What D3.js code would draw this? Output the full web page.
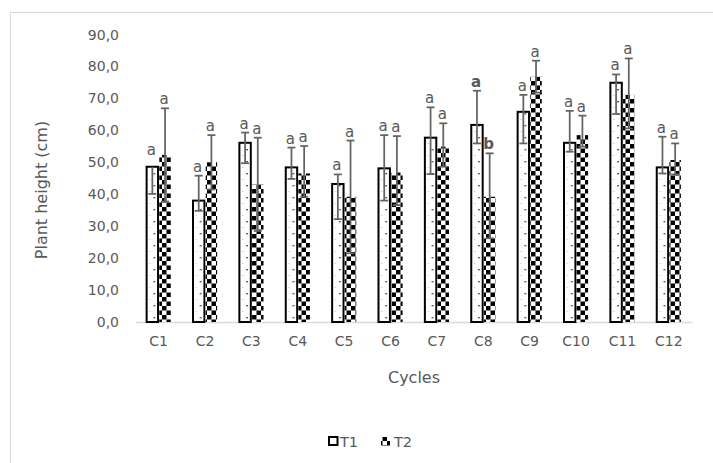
<!DOCTYPE html>
<html>
<head>
<meta charset="utf-8">
<script src="https://cdn.jsdelivr.net/npm/d3@7/dist/d3.min.js"></script>
<style>
  html, body { margin: 0; padding: 0; background: #fff; }
  svg { display: block; }
  text { font-family: "DejaVu Sans", sans-serif; fill: #595959; }
</style>
</head>
<body>
<svg id="chart" width="713" height="463"></svg>
<script>
const categories = ["C1","C2","C3","C4","C5","C6","C7","C8","C9","C10","C11","C12"];
const seriesNames = ["T1","T2"];
const t1Values = [48.6, 38.0, 56.1, 48.4, 43.2, 48.1, 57.7, 61.7, 65.8, 56.1, 74.9, 48.4];
const t1ErrUp   = [0.0, 7.8, 3.2, 6.2, 3.0, 10.4, 9.5, 10.7, 5.3, 10.0, 2.6, 9.6];
const t1ErrDown = [8.5, 3.2, 6.4, 3.6, 11.0, 10.1, 11.4, 5.8, 9.9, 2.8, 9.8, 1.9];
const t2Values = [52.3, 50.0, 43.1, 46.5, 39.2, 46.8, 54.9, 39.2, 76.8, 58.5, 71.1, 50.7];
const t2ErrUp   = [14.6, 8.5, 14.6, 8.6, 17.6, 11.4, 7.3, 13.6, 5.0, 6.1, 11.4, 5.2];
const t2ErrDown = [14.6, 8.5, 14.6, 7.3, 17.7, 10.2, 6.3, 13.0, 5.0, 3.6, 10.5, 4.5];
const t1Letters = ["a","a","a","a","a","a","a","a","a","a","a","a"];
const t2Letters = ["a","a","a","a","a","a","a","b","a","a","a","a"];
const boldCategories = ["C8"];
const yTicks = [0,10,20,30,40,50,60,70,80,90];

(function () {
const svg = d3.select("#chart");

// frame
svg.append("rect").attr("x", 10.5).attr("y", 12.5).attr("width", 740).attr("height", 480)
  .attr("fill", "none").attr("stroke", "#d9d9d9").attr("stroke-width", 1);

const plotLeft = 135.5, plotRight = 692, plotTop = 34.5, plotBottom = 322;
const x0 = d3.scaleBand().domain(categories).range([plotLeft, plotRight]).padding(0);
const bw = x0.bandwidth();
const x1 = d3.scaleBand().domain(seriesNames).range([bw * 0.24, bw * 0.76]).paddingInner(0.1);
const y = d3.scaleLinear().domain([0, 90]).range([plotBottom, plotTop]);

// patterns
const defs = svg.append("defs");
const p1 = defs.append("pattern").attr("id", "pT1").attr("patternUnits", "userSpaceOnUse")
  .attr("width", bw).attr("height", 12).attr("x", plotLeft);
p1.append("rect").attr("width", bw).attr("height", 12).attr("fill", "#fff");
p1.append("rect").attr("x", bw * 0.24 + 7).attr("y", 5).attr("width", 1.4).attr("height", 1.4).attr("fill", "#222");
p1.append("rect").attr("x", bw * 0.24 + 3).attr("y", 11).attr("width", 0.9).attr("height", 0.9).attr("fill", "#aaa");

const p2 = defs.append("pattern").attr("id", "pT2").attr("patternUnits", "userSpaceOnUse")
  .attr("width", 9).attr("height", 9);
p2.append("rect").attr("width", 9).attr("height", 9).attr("fill", "#fff");
p2.append("rect").attr("x", 0).attr("y", 0).attr("width", 4.5).attr("height", 4.5).attr("fill", "#000");
p2.append("rect").attr("x", 4.5).attr("y", 4.5).attr("width", 4.5).attr("height", 4.5).attr("fill", "#000");

// y tick labels
const fmt = v => d3.format(".1f")(v).replace(".", ",");
svg.append("g").selectAll("text").data(yTicks).join("text")
  .attr("x", 119).attr("y", d => y(d)).attr("dy", "0.36em")
  .attr("text-anchor", "end").attr("font-size", 14).text(fmt);

// axis line
const xAxisG = svg.append("g").attr("transform", `translate(0,${plotBottom})`)
  .call(d3.axisBottom(x0).tickSize(0).tickPadding(14));
xAxisG.select(".domain").attr("stroke", "#d9d9d9").attr("stroke-width", 1.5);
xAxisG.selectAll("text").attr("font-size", 14).attr("fill", "#595959")
  .style("font-family", "DejaVu Sans, sans-serif");

const rows = categories.map((c, i) => ({
  cat: c,
  items: [
    {s: "T1", v: t1Values[i], up: t1ErrUp[i], down: t1ErrDown[i], letter: t1Letters[i]},
    {s: "T2", v: t2Values[i], up: t2ErrUp[i], down: t2ErrDown[i], letter: t2Letters[i]}
  ]
}));

const bars = svg.append("g");
rows.forEach(r => {
  r.items.forEach(d => {
    bars.append("rect")
      .attr("x", x0(r.cat) + x1(d.s))
      .attr("y", y(d.v))
      .attr("width", x1.bandwidth())
      .attr("height", y(0) - y(d.v))
      .attr("fill", d.s === "T1" ? "url(#pT1)" : "url(#pT2)")
      .attr("stroke", d.s === "T1" ? "#000" : "none")
      .attr("stroke-width", 2);
  });
});

const groups = svg.append("g").selectAll("g").data(rows).join("g")
  .attr("transform", d => `translate(${x0(d.cat)},0)`);

// error bars
const capW = 8;
const eb = groups.selectAll("g.err").data(d => d.items.map(it => ({...it, cat: d.cat}))).join("g")
  .attr("class", "err")
  .attr("transform", d => `translate(${x1(d.s) + x1.bandwidth() / 2},0)`);
eb.append("line").attr("x1", 0).attr("x2", 0)
  .attr("y1", d => y(d.v + d.up)).attr("y2", d => y(d.v - d.down))
  .attr("stroke", "#636363").attr("stroke-width", 1.75);
eb.filter(d => d.up > 0).append("line").attr("x1", -capW / 2).attr("x2", capW / 2)
  .attr("y1", d => y(d.v + d.up)).attr("y2", d => y(d.v + d.up))
  .attr("stroke", "#636363").attr("stroke-width", 1.75);
eb.filter(d => d.down > 0).append("line").attr("x1", -capW / 2).attr("x2", capW / 2)
  .attr("y1", d => y(d.v - d.down)).attr("y2", d => y(d.v - d.down))
  .attr("stroke", "#636363").attr("stroke-width", 1.75);

// letters
eb.append("text")
  .attr("x", -1)
  .attr("y", d => y(d.v + d.up) - (d.up > 0 ? 4 : 12))
  .attr("text-anchor", "middle")
  .attr("font-size", 15)
  .attr("font-weight", d => boldCategories.includes(d.cat) ? "bold" : "normal")
  .text(d => d.letter);

// axis titles
svg.append("text").attr("transform", "translate(47,190) rotate(-90)")
  .attr("text-anchor", "middle").attr("font-size", 16).text("Plant height (cm)");
svg.append("text").attr("x", 414).attr("y", 383)
  .attr("text-anchor", "middle").attr("font-size", 16).text("Cycles");

// legend
const lg = svg.append("g");
lg.append("rect").attr("x", 329).attr("y", 437).attr("width", 8.5).attr("height", 8)
  .attr("fill", "#fff").attr("stroke", "#000").attr("stroke-width", 2);
lg.append("text").attr("x", 340).attr("y", 446.5).attr("font-size", 14.5).text(seriesNames[0]);
lg.append("rect").attr("x", 381).attr("y", 437).attr("width", 9).attr("height", 9)
  .attr("fill", "url(#pT2)");
lg.append("text").attr("x", 394).attr("y", 446.5).attr("font-size", 14.5).text(seriesNames[1]);
})();
</script>
</body>
</html>
